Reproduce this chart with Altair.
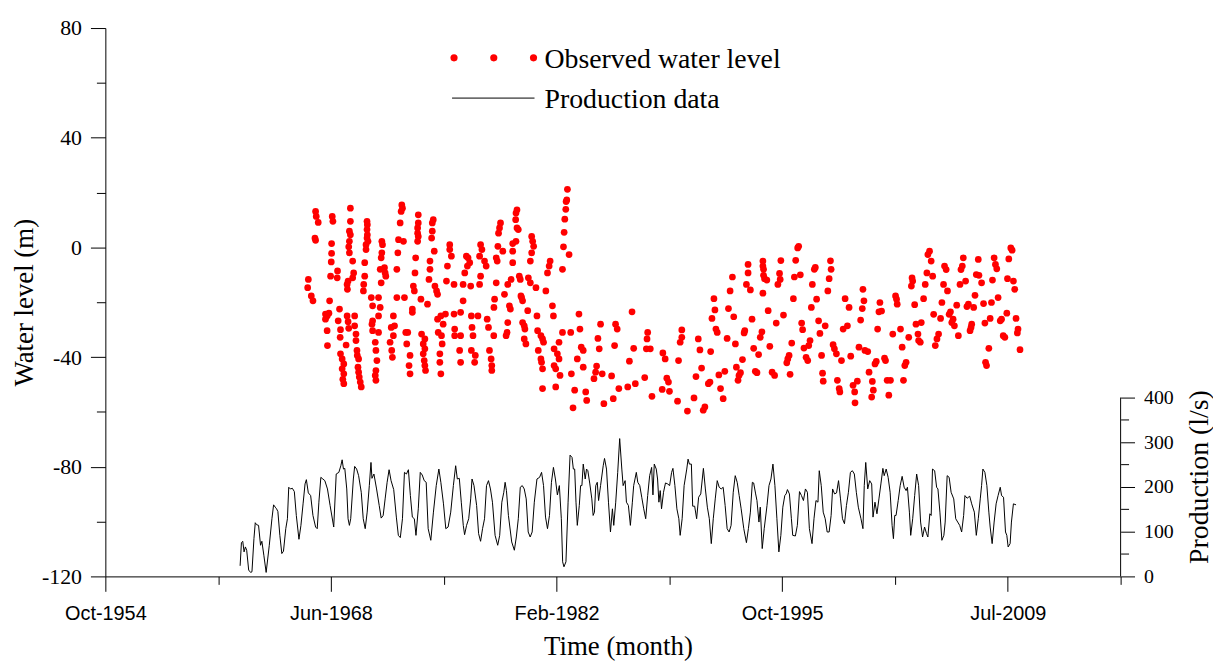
import altair as alt
import pandas as pd

# ---------------- data (decimal year, value) ----------------
water_level = [
    (1967.07,-11.7),(1967.03,-14.7),(1967.25,-17.7),(1967.35,-19.5),(1967.51,13.1),(1967.55,11.3),(1967.67,9.1),(1967.47,3.4),(1967.51,2.6),
    (1968.11,-24.3),(1968.21,-25.0),(1968.32,-24.0),(1968.11,-26.2),(1968.21,-30.4),(1968.23,-35.8),(1968.36,-19.5),(1968.42,-10.5),(1968.52,11.3),(1968.56,9.5),(1968.48,1.4),(1968.48,-2.2),(1968.46,-5.3),
    (1968.84,-8.6),(1968.82,-11.1),(1968.96,-22.5),(1968.88,-26.8),(1969.02,-30.0),(1969.00,-32.8),(1969.36,-35.6),(1969.02,-38.8),(1969.12,-40.7),(1969.22,-42.5),(1969.12,-44.3),(1969.22,-46.1),(1969.16,-48.1),(1969.22,-49.7),
    (1969.62,14.3),(1969.62,9.5),(1969.56,5.9),(1969.62,4.6),(1969.56,2.2),(1969.52,0.2),(1969.56,-2.0),(1969.76,-5.0),(1969.82,-9.3),(1969.76,-11.1),(1969.48,-12.3),(1969.42,-13.5),(1969.44,-15.3),(1969.42,-25.0),(1969.48,-27.1),(1969.52,-29.5),
    (1969.88,-25.0),(1969.88,-28.6),(1969.96,-31.6),(1969.96,-34.0),(1970.02,-37.6),(1970.04,-39.4),(1970.12,-40.7),(1970.08,-43.7),(1970.12,-45.5),(1970.16,-47.3),(1970.22,-49.1),(1970.28,-50.9),
    (1970.63,9.5),(1970.65,8.3),(1970.63,6.5),(1970.65,4.6),(1970.63,3.4),(1970.69,2.2),(1970.57,1.0),(1970.57,-0.8),(1970.49,-5.6),(1970.49,-10.5),(1970.43,-13.5),(1970.41,-15.9),
    (1970.89,-18.3),(1970.97,-21.3),(1971.33,-18.3),(1971.43,-21.9),(1971.33,-25.0),(1970.97,-26.8),(1970.93,-28.0),(1970.97,-30.4),(1971.33,-31.0),(1971.13,-34.6),(1971.17,-37.6),(1971.23,-41.3),(1971.17,-44.9),(1971.13,-46.7),(1971.17,-48.5),
    (1971.49,-12.9),(1971.43,-8.0),(1971.53,2.2),(1971.57,1.0),(1971.53,-2.0),(1971.49,-3.8),(1971.69,-7.4),(1971.73,-9.3),(1971.77,-10.5),
    (1972.23,-25.0),(1972.30,-28.6),(1972.10,-29.2),(1972.23,-32.2),(1972.03,-34.6),(1972.13,-37.6),(1972.17,-40.1),
    (1972.74,15.5),(1972.78,14.3),(1972.70,13.1),(1972.64,8.9),(1972.54,2.8),(1972.84,2.2),(1972.50,-2.0),(1972.44,-8.0),(1972.44,-18.3),(1972.90,-18.3),
    (1972.98,-31.0),(1973.10,-31.0),(1973.04,-35.2),(1973.24,-39.4),(1973.18,-43.1),(1973.24,-46.1),
    (1973.58,-3.8),(1973.54,-9.3),(1973.44,-14.1),(1973.50,-15.9),(1973.38,-22.5),(1973.38,-23.7),
    (1973.74,11.9),(1973.74,8.9),(1973.70,7.1),(1973.70,5.2),(1973.74,4.0),(1973.70,2.2),
    (1973.90,-18.9),(1974.30,-20.7),(1973.94,-31.6),(1974.14,-33.4),(1974.04,-35.2),(1974.14,-37.0),(1974.04,-38.8),(1974.10,-41.3),(1974.14,-43.1),(1974.18,-44.9),
    (1974.65,10.1),(1974.59,8.9),(1974.59,5.9),(1974.55,3.4),(1974.71,-1.4),(1974.45,-5.0),(1974.45,-8.0),(1974.39,-11.7),(1974.75,-14.1),(1974.85,-15.9),(1974.91,-17.1),
    (1975.11,-25.0),(1974.91,-26.2),(1975.25,-28.0),(1974.95,-31.0),(1975.15,-32.2),(1975.19,-35.2),(1975.05,-38.8),(1975.05,-41.9),(1975.11,-46.1),
    (1975.65,1.0),(1975.65,-0.8),(1975.75,-3.2),(1975.51,-6.8),(1975.45,-12.3),(1975.39,-24.3),(1975.91,-13.5),(1975.91,-24.3),
    (1976.31,-23.7),(1975.95,-29.8),(1976.31,-32.2),(1975.95,-32.2),(1976.25,-37.6),(1976.31,-41.9),
    (1976.66,-3.2),(1976.76,-3.8),(1976.86,-5.6),(1976.72,-6.8),(1976.56,-9.3),(1976.46,-13.5),(1976.92,-14.1),(1976.46,-19.5),
    (1976.96,-25.0),(1977.00,-29.2),(1977.06,-32.2),(1976.96,-37.6),(1977.20,-39.4),(1977.16,-41.9),
    (1977.52,1.0),(1977.60,-0.8),(1977.46,-3.2),(1977.76,-5.0),(1977.86,-6.8),(1977.52,-10.5),(1977.46,-13.5),(1977.36,-25.0),
    (1977.92,-26.2),(1978.00,-29.2),(1978.32,-32.2),(1978.06,-37.6),(1978.16,-40.7),(1978.20,-43.1),(1978.20,-44.9),
    (1978.47,-3.8),(1978.53,-5.0),(1978.47,-12.9),(1978.37,-18.9),(1978.33,-21.9),
    (1978.73,8.9),(1978.67,7.1),(1978.61,5.2),(1978.57,0.4),(1978.87,-1.4),(1978.97,-17.1),(1979.17,-13.5),(1979.37,-11.7),(1979.27,-21.3),(1979.33,-22.5),(1979.17,-27.4),(1979.13,-31.0),(1979.07,-32.2),
    (1979.73,13.7),(1979.67,12.5),(1979.65,10.1),(1979.73,7.1),(1979.81,6.5),(1979.67,2.2),(1979.47,1.4),(1979.47,-1.4),(1979.47,-5.6),(1979.87,-10.5),(1979.93,-11.7),
    (1979.97,-17.7),(1980.01,-18.3),(1980.07,-19.5),(1980.07,-27.4),(1980.17,-28.6),(1980.21,-29.8),(1980.17,-33.4),(1980.27,-35.2),
    (1980.62,4.0),(1980.68,2.2),(1980.74,0.4),(1980.62,-2.0),(1980.54,-5.0),(1980.42,-11.1),(1980.54,-12.9),(1980.88,-14.7),(1980.38,-23.1),
    (1980.94,-25.0),(1980.98,-30.4),(1981.18,-32.2),(1981.28,-33.4),(1981.34,-34.6),(1981.02,-37.6),(1981.18,-40.7),(1981.22,-41.9),(1981.28,-44.3),(1981.28,-51.5),
    (1981.74,-5.0),(1981.68,-6.8),(1981.58,-9.3),(1981.48,-15.9),(1981.88,-21.3),(1981.94,-25.0),
    (1982.28,-34.6),(1981.98,-37.0),(1982.18,-38.8),(1982.28,-40.7),(1981.98,-43.1),(1982.08,-44.3),(1982.34,-46.7),(1982.08,-50.9),
    (1982.79,21.2),(1982.75,17.3),(1982.71,16.7),(1982.69,13.9),(1982.63,10.3),(1982.59,5.5),(1982.55,0.2),(1982.89,-2.6),(1982.49,-8.0),
    (1982.49,-31.0),(1982.99,-31.0),(1983.49,-24.3),(1983.55,-29.8),(1983.63,-36.4),(1983.75,-37.6),(1983.39,-40.7),(1983.75,-43.7),(1983.03,-46.1),(1983.23,-52.1),(1983.90,-52.7),(1983.96,-55.8),(1983.13,-58.5),
    (1984.40,-47.9),(1984.50,-45.5),(1984.56,-43.3),(1984.64,-33.2),(1984.72,-37.0),(1984.80,-28.0),(1984.90,-46.1),(1985.00,-57.0),
    (1985.47,-46.9),(1985.57,-55.2),(1985.71,-28.0),(1985.81,-29.8),(1985.65,-35.8),(1985.91,-51.5),
    (1986.45,-50.9),(1986.55,-41.5),(1986.71,-23.5),(1986.81,-36.8),(1986.91,-49.7),
    (1987.48,-47.5),(1987.62,-33.4),(1987.66,-31.0),(1987.58,-37.0),(1987.82,-37.0),(1987.92,-54.3),
    (1988.58,-38.5),(1988.72,-40.7),(1988.54,-51.8),(1988.82,-47.7),(1988.92,-49.1),(1988.98,-52.5),
    (1989.53,-41.3),(1989.63,-34.6),(1989.73,-32.8),(1989.73,-30.1),(1989.47,-56.1),
    (1990.07,-59.7),(1990.47,-54.9),(1990.59,-47.1),(1990.73,-33.4),(1990.83,-37.4),(1990.93,-44.0),(1991.13,-58.2),(1991.03,-59.4),
    (1991.34,-49.7),(1991.44,-49.1),(1991.48,-38.0),(1991.68,-18.7),(1991.74,-22.8),(1991.56,-25.9),(1991.80,-29.8),(1991.88,-31.0),
    (1991.98,-46.5),(1992.08,-51.5),(1992.24,-55.2),(1992.34,-45.2),(1992.48,-33.2),(1992.56,-22.3),(1992.66,-15.9),(1992.80,-10.8),(1992.88,-25.3),
    (1992.98,-35.2),(1993.04,-43.7),(1993.14,-48.5),(1993.20,-46.7),(1993.29,-45.7),(1993.41,-40.9),(1993.51,-31.2),(1993.55,-30.4),
    (1993.75,-6.2),(1993.75,-9.3),(1993.65,-13.5),(1993.89,-15.5),(1993.99,-26.2),(1994.09,-36.8),(1994.19,-45.2),(1994.29,-45.7),(1994.39,-39.1),(1994.49,-32.8),(1994.59,-30.8),
    (1994.65,-16.7),(1994.65,-5.0),(1994.65,-6.8),(1994.69,-8.0),(1994.69,-10.2),(1994.75,-11.4),(1994.89,-11.9),(1994.97,-23.1),(1995.07,-36.1),(1995.21,-45.5),(1995.36,-46.7),
    (1995.46,-27.6),(1995.56,-13.5),(1995.70,-11.7),(1995.66,-9.5),(1995.74,-4.8),(1995.90,-24.7),(1996.10,-42.1),(1996.16,-40.7),(1996.24,-39.4),(1996.30,-46.3),(1996.40,-34.9),
    (1996.50,-18.7),(1996.56,-10.8),(1996.64,-4.7),(1996.76,-0.2),(1996.82,0.4),(1996.92,-10.0),(1997.00,-27.6),(1997.06,-30.0),(1997.14,-36.7),(1997.27,-40.1),(1997.37,-41.3),(1997.43,-35.8),(1997.51,-34.0),
    (1997.59,-21.9),(1997.65,-13.5),(1997.77,-8.0),(1997.83,-7.3),(1997.91,-18.9),(1998.03,-26.8),(1998.11,-31.4),(1998.21,-39.4),(1998.27,-45.9),(1998.31,-48.8),
    (1998.43,-28.6),(1998.59,-15.9),(1998.67,-11.4),(1998.79,-8.0),(1998.75,-4.9),(1998.91,-35.5),(1998.99,-37.0),(1999.11,-38.8),(1999.17,-48.5),(1999.28,-51.5),(1999.32,-52.7),
    (1999.42,-41.3),(1999.52,-29.8),(1999.64,-18.7),(1999.78,-28.6),(1999.88,-21.9),(1999.98,-39.7),(2000.12,-50.3),(2000.22,-52.7),(2000.24,-56.7),(2000.38,-48.8),(2000.48,-36.4),(2000.58,-26.5),(2000.68,-22.3),(2000.72,-15.3),(2000.78,-19.5),(2000.84,-37.6),
    (2001.01,-38.0),(2001.09,-45.5),(2001.29,-48.9),(2001.25,-54.6),(2001.35,-52.1),(2001.45,-42.5),(2001.53,-41.6),(2001.61,-29.8),(2001.69,-23.5),(2001.85,-23.2),(2001.75,-20.1),
    (2002.03,-40.4),(2002.09,-41.3),(2002.19,-48.5),(2002.29,-53.9),(2002.39,-48.5),(2002.53,-31.6),(2002.70,-17.7),(2002.76,-18.9),(2002.80,-20.7),
    (2003.00,-29.8),(2003.10,-36.4),(2003.18,-48.5),(2003.26,-43.1),(2003.34,-41.9),(2003.50,-32.8),(2003.70,-11.1),(2003.66,-14.1),(2003.74,-12.3),(2003.86,-20.9),(2003.94,-28.0),
    (2004.06,-31.6),(2004.10,-34.0),(2004.20,-34.6),(2004.26,-27.4),(2004.40,-18.7),(2004.50,-13.5),(2004.60,-9.3),(2004.66,-2.6),(2004.76,-1.4),(2004.86,-5.0),(2004.95,-10.5),
    (2005.01,-24.4),(2005.11,-35.8),(2005.21,-33.4),(2005.31,-31.6),(2005.43,-25.9),(2005.51,-20.1),(2005.61,-13.5),(2005.67,-6.8),(2005.77,-8.1),(2005.85,-15.9),(2005.95,-24.4),
    (2006.03,-23.5),(2006.11,-27.4),(2006.19,-26.2),(2006.27,-28.6),(2006.41,-21.1),(2006.51,-32.2),(2006.61,-13.5),(2006.67,-8.1),(2006.75,-6.8),(2006.81,-3.8),(2006.95,-12.3),
    (2007.03,-21.6),(2007.12,-20.7),(2007.22,-30.4),(2007.32,-28.0),(2007.28,-29.2),(2007.44,-21.9),(2007.52,-17.5),(2007.60,-9.9),(2007.72,-4.4),(2007.76,-10.2),(2007.92,-12.9),
    (2008.04,-20.5),(2008.16,-41.9),(2008.22,-43.1),(2008.12,-27.6),(2008.36,-36.8),(2008.44,-25.9),(2008.52,-20.1),(2008.58,-11.9),(2008.68,-3.8),(2008.76,-6.2),(2008.84,-7.8),(2008.92,-18.3),
    (2009.05,-26.8),(2009.13,-26.2),(2009.23,-32.2),(2009.33,-32.8),(2009.45,-24.0),(2009.49,-11.4),(2009.57,-4.2),(2009.69,-0.2),(2009.77,-1.0),(2009.85,-12.3),(2009.93,-15.3),(2010.01,-25.9),(2010.09,-31.2),(2010.13,-29.8),(2010.25,-37.3),
]

production = [
    (1962.93,23.7),(1963.01,75.5),(1963.09,78.5),(1963.17,54.8),(1963.25,65.9),(1963.33,58.5),(1963.45,14.1),(1963.57,8.9),(1963.65,10.4),(1963.77,84.4),
    (1963.85,120.0),(1963.93,115.6),(1964.05,114.1),(1964.17,69.6),(1964.25,78.5),(1964.37,47.4),(1964.51,8.9),(1964.70,69.6),(1964.86,128.9),(1964.96,160.0),
    (1965.06,154.8),(1965.14,151.1),(1965.22,145.2),(1965.34,91.8),(1965.46,51.1),(1965.56,56.3),(1965.70,106.7),(1965.80,128.9),(1965.88,199.3),(1965.98,195.5),
    (1966.10,197.0),(1966.22,189.6),(1966.34,136.3),(1966.50,83.0),(1966.62,114.1),(1966.75,162.2),(1966.87,206.7),(1966.95,216.3),(1967.07,186.7),(1967.21,180.7),
    (1967.35,136.3),(1967.51,110.4),(1967.61,106.7),(1967.71,165.9),(1967.83,221.5),(1967.95,217.8),(1968.07,214.1),(1968.23,195.5),(1968.39,158.5),(1968.61,110.4),
    (1968.76,228.9),(1968.92,232.6),(1969.04,247.4),(1969.12,260.7),(1969.20,240.0),(1969.28,241.5),(1969.40,195.5),(1969.48,128.9),(1969.56,114.1),(1969.64,128.9),
    (1969.80,217.8),(1969.88,245.9),(1970.00,240.0),(1970.12,225.2),(1970.28,188.1),(1970.40,128.9),(1970.52,106.7),(1970.64,143.7),(1970.77,203.0),(1970.87,254.8),
    (1970.93,219.3),(1971.05,228.9),(1971.21,195.5),(1971.37,158.5),(1971.49,130.4),(1971.61,136.3),(1971.73,173.3),(1971.85,210.4),(1971.97,238.5),(1972.09,214.1),
    (1972.25,194.1),(1972.41,132.6),(1972.53,91.8),(1972.65,86.7),(1972.78,128.9),(1972.90,232.6),(1973.02,228.9),(1973.14,238.5),(1973.26,180.7),(1973.38,132.6),
    (1973.50,128.9),(1973.60,91.8),(1973.74,151.1),(1973.86,232.6),(1973.98,226.7),(1974.10,214.1),(1974.22,210.4),(1974.34,106.7),(1974.50,80.7),(1974.66,143.7),
    (1974.83,203.0),(1974.99,240.0),(1975.11,210.4),(1975.27,162.2),(1975.41,106.7),(1975.55,110.4),(1975.71,143.7),(1975.87,203.0),(1976.01,247.4),(1976.11,217.8),
    (1976.23,219.3),(1976.35,165.9),(1976.47,114.1),(1976.55,93.3),(1976.67,114.1),(1976.80,128.9),(1976.92,173.3),(1977.00,217.8),(1977.12,203.0),(1977.28,158.5),
    (1977.40,95.6),(1977.52,78.5),(1977.64,106.7),(1977.76,128.9),(1977.88,203.0),(1978.00,214.1),(1978.12,195.5),(1978.24,165.9),(1978.40,91.8),(1978.56,69.6),
    (1978.68,91.8),(1978.81,165.9),(1978.93,188.1),(1979.01,210.4),(1979.09,191.8),(1979.21,136.3),(1979.41,77.0),(1979.57,58.5),(1979.69,88.1),(1979.81,128.9),
    (1979.93,199.3),(1980.05,203.0),(1980.17,195.5),(1980.29,173.3),(1980.41,99.3),(1980.53,88.1),(1980.65,99.3),(1980.78,165.9),(1980.94,217.8),(1981.10,221.5),
    (1981.22,232.6),(1981.34,203.0),(1981.46,132.6),(1981.58,106.7),(1981.70,136.3),(1981.82,210.4),(1981.94,243.7),(1982.06,217.8),(1982.18,182.2),(1982.30,203.0),
    (1982.42,128.9),(1982.50,32.6),(1982.58,21.5),(1982.70,32.6),(1982.83,165.9),(1982.95,271.1),(1983.07,265.9),(1983.15,240.0),(1983.23,240.0),(1983.31,165.9),
    (1983.39,114.1),(1983.51,158.5),(1983.59,203.0),(1983.67,203.0),(1983.75,251.1),(1983.87,217.8),(1983.95,240.0),(1984.03,236.3),(1984.15,206.7),(1984.27,173.3),
    (1984.35,136.3),(1984.43,143.7),(1984.51,203.0),(1984.60,210.4),(1984.68,169.6),(1984.80,203.0),(1984.96,247.4),(1985.04,263.7),(1985.16,240.0),(1985.28,165.9),
    (1985.40,99.3),(1985.52,151.1),(1985.60,114.1),(1985.72,165.9),(1985.84,232.6),(1985.96,308.1),(1986.09,240.0),(1986.17,203.0),(1986.29,214.1),(1986.37,165.9),
    (1986.49,158.5),(1986.61,114.1),(1986.73,165.9),(1986.81,203.0),(1986.97,232.6),(1987.06,210.4),(1987.18,203.0),(1987.30,177.0),(1987.42,151.1),(1987.54,128.9),
    (1987.66,180.7),(1987.78,225.2),(1987.90,243.7),(1987.98,182.2),(1988.06,251.1),(1988.18,240.0),(1988.26,217.8),(1988.34,165.9),(1988.42,191.8),(1988.50,151.1),
    (1988.62,188.1),(1988.74,208.9),(1988.87,206.7),(1988.99,203.0),(1989.11,232.6),(1989.19,241.5),(1989.31,203.0),(1989.43,151.1),(1989.55,128.9),(1989.63,91.8),
    (1989.75,128.9),(1989.87,203.0),(1990.03,240.0),(1990.11,262.2),(1990.19,251.1),(1990.31,251.1),(1990.39,157.0),(1990.51,157.0),(1990.63,128.9),(1990.75,177.0),
    (1990.88,184.4),(1991.04,241.5),(1991.16,195.5),(1991.28,154.8),(1991.40,128.9),(1991.52,73.3),(1991.64,128.9),(1991.76,173.3),(1991.88,214.1),(1992.00,199.3),
    (1992.12,195.5),(1992.24,199.3),(1992.36,158.5),(1992.48,106.7),(1992.60,99.3),(1992.72,114.1),(1992.85,188.1),(1992.97,225.2),(1993.09,210.4),(1993.21,180.7),
    (1993.33,151.1),(1993.49,106.7),(1993.65,75.5),(1993.77,106.7),(1993.89,143.7),(1994.01,210.4),(1994.09,208.9),(1994.21,184.4),(1994.29,169.6),(1994.41,121.5),
    (1994.49,154.8),(1994.61,62.2),(1994.73,106.7),(1994.90,158.5),(1995.02,203.0),(1995.14,217.8),(1995.26,251.1),(1995.38,203.0),(1995.50,128.9),(1995.62,54.8),
    (1995.74,91.8),(1995.86,154.8),(1995.98,180.7),(1996.06,184.4),(1996.14,194.1),(1996.26,184.4),(1996.38,128.9),(1996.46,91.8),(1996.62,90.4),(1996.74,114.1),
    (1996.87,189.6),(1996.99,180.7),(1997.11,169.6),(1997.23,195.5),(1997.35,188.1),(1997.47,106.7),(1997.63,73.3),(1997.75,128.9),(1997.87,169.6),(1997.99,165.9),
    (1998.07,236.3),(1998.19,203.0),(1998.31,143.7),(1998.43,128.9),(1998.55,99.3),(1998.67,99.3),(1998.79,136.3),(1998.88,195.5),(1999.00,184.4),(1999.12,186.7),
    (1999.24,214.1),(1999.36,173.3),(1999.48,128.9),(1999.60,117.8),(1999.72,158.5),(1999.84,188.1),(1999.96,232.6),(2000.08,236.3),(2000.20,228.9),(2000.32,188.1),
    (2000.44,154.8),(2000.60,128.9),(2000.72,106.7),(2000.80,203.0),(2000.89,254.8),(2001.01,195.5),(2001.13,214.1),(2001.25,206.7),(2001.33,132.6),(2001.45,165.9),
    (2001.57,140.0),(2001.69,173.3),(2001.81,206.7),(2001.93,241.5),(2002.01,225.2),(2002.13,240.0),(2002.25,221.5),(2002.37,188.1),(2002.49,114.1),(2002.57,84.4),
    (2002.65,136.3),(2002.73,136.3),(2002.86,169.6),(2002.98,203.0),(2003.10,223.7),(2003.22,199.3),(2003.34,191.8),(2003.42,199.3),(2003.54,143.7),(2003.62,91.8),
    (2003.74,128.9),(2003.86,180.7),(2003.98,228.9),(2004.10,203.0),(2004.22,121.5),(2004.34,88.1),(2004.46,110.4),(2004.58,95.6),(2004.66,88.1),(2004.78,140.0),
    (2004.86,136.3),(2004.94,240.0),(2005.07,236.3),(2005.19,199.3),(2005.27,195.5),(2005.39,143.7),(2005.51,80.7),(2005.63,91.8),(2005.71,121.5),(2005.83,225.2),
    (2005.95,221.5),(2006.07,188.1),(2006.23,173.3),(2006.35,128.9),(2006.47,121.5),(2006.59,114.1),(2006.71,99.3),(2006.83,136.3),(2006.91,180.7),(2007.04,174.8),
    (2007.20,179.3),(2007.32,162.2),(2007.48,143.7),(2007.60,91.8),(2007.72,128.9),(2007.84,173.3),(2007.92,203.0),(2008.00,240.0),(2008.12,232.6),(2008.24,203.0),
    (2008.36,143.7),(2008.44,110.4),(2008.56,73.3),(2008.68,121.5),(2008.80,162.2),(2008.92,180.7),(2009.05,199.3),(2009.13,180.7),(2009.25,177.0),(2009.37,99.3),
    (2009.45,91.8),(2009.53,65.9),(2009.65,73.3),(2009.73,121.5),(2009.85,162.2),(2010.01,160.0),
]

x_major_labels = ["Oct-1954", "Jun-1968", "Feb-1982", "Oct-1995", "Jul-2009"]
left_ticks = [-120, -100, -80, -60, -40, -20, 0, 20, 40, 60, 80]
right_ticks = [0, 50, 100, 150, 200, 250, 300, 350, 400]
legend_labels = ["Observed water level", "Production data"]
right_title = "Production (l/s)"


def year_to_iso(y):
    yr = int(y)
    start = pd.Timestamp(year=yr, month=1, day=1)
    end = pd.Timestamp(year=yr + 1, month=1, day=1)
    return (start + (end - start) * (y - yr)).strftime("%Y-%m-%dT%H:%M:%S")


wl_df = pd.DataFrame({"date": [year_to_iso(t) for t, _ in water_level],
                      "level": [v for _, v in water_level]})
pr_df = pd.DataFrame({"date": [year_to_iso(t) for t, _ in production],
                      "flow": [v for _, v in production]})

# time axis: Origin-style ticks every 5000 days, minor ticks halfway
origin = pd.Timestamp("1954-10-03")


def dt(ts):
    return alt.DateTime(year=ts.year, month=ts.month, date=ts.day)


x_vals = [dt(origin + pd.Timedelta(days=2500 * k)) for k in range(10)]
x_scale = alt.Scale(domain=[dt(origin), dt(origin + pd.Timedelta(days=22500))])

SERIF = "Liberation Serif"
SANS = "Liberation Sans"

major_x = "indexof([" + ",".join("'%s'" % s for s in x_major_labels) + "], timeFormat(datum.value, '%b-%Y')) >= 0"
x_axis = alt.Axis(
    values=x_vals,
    labelExpr=major_x + " ? timeFormat(datum.value, '%b-%Y') : ''",
    tickSize={"condition": {"test": major_x, "value": 15}, "value": 8},
    labelFont=SANS, labelFontSize=20, labelPadding=12, labelColor="black",
    labelFlush=False, labelOverlap=False,
    title="Time (month)", titleFont=SERIF, titleFontSize=27, titleFontWeight="normal",
    titleColor="black", titleX=516, titleY=79, titleAlign="center", titleBaseline="alphabetic",
    grid=False, domainColor="black", tickColor="black",
)

major_l = "datum.value % 40 === 0"
y_axis = alt.Axis(
    values=left_ticks,
    labelExpr=major_l + " ? '' + datum.value : ''",
    tickSize={"condition": {"test": major_l, "value": 15}, "value": 9},
    labelFont=SERIF, labelFontSize=22, labelPadding=9, labelColor="black",
    labelFlush=False, labelOverlap=False,
    title="Water level (m)", titleFont=SERIF, titleFontSize=27, titleFontWeight="normal",
    titleColor="black", titleAngle=270, titleX=-73, titleY=276, titleAlign="center",
    titleBaseline="alphabetic",
    grid=False, domainColor="black", tickColor="black",
)

major_r = "datum.value % 100 === 0"
r_axis = alt.Axis(
    orient="right", values=right_ticks,
    labelExpr=major_r + " ? '' + datum.value : ''",
    tickSize={"condition": {"test": major_r, "value": 14}, "value": 8},
    labelFont=SERIF, labelFontSize=20, labelPadding=9, labelColor="black",
    labelFlush=False, labelOverlap=False,
    domain=False, grid=False, tickColor="black",
)
prod_scale = alt.Scale(domain=[0, 1226], nice=False, zero=True)

water = alt.Chart(wl_df).mark_circle(color="#ff0000", opacity=1, size=46).encode(
    x=alt.X("date:T", scale=x_scale, axis=x_axis),
    y=alt.Y("level:Q", scale=alt.Scale(domain=[-120, 80], nice=False, zero=False), axis=y_axis),
)

prod_line = alt.Chart(pr_df).mark_line(color="black", strokeWidth=1).encode(
    x=alt.X("date:T", scale=x_scale, axis=x_axis),
    y=alt.Y("flow:Q", scale=prod_scale, axis=r_axis, title=""),
)

axis_range = pd.DataFrame({"lo": [right_ticks[0]], "hi": [right_ticks[-1]]})
prod_rule = alt.Chart(axis_range).mark_rule(color="black", strokeWidth=1).encode(
    x=alt.value(1022),
    y=alt.Y("lo:Q", scale=prod_scale, axis=r_axis, title=""),
    y2="hi:Q",
)

one = alt.Data(values=[{"k": 0}])
legend_dots = [
    alt.Chart(one).mark_circle(color="#ff0000", opacity=1, size=52).encode(
        x=alt.value(px), y=alt.value(30))
    for px in (351, 391, 431)
]
legend_line = alt.Chart(one).mark_rule(color="black", strokeWidth=1).encode(
    x=alt.value(349), x2=alt.value(432), y=alt.value(70.5))
legend_t1 = alt.Chart(one).mark_text(
    text=legend_labels[0], font=SERIF, fontSize=28, align="left", baseline="alphabetic",
    color="black").encode(x=alt.value(442), y=alt.value(40))
legend_t2 = alt.Chart(one).mark_text(
    text=legend_labels[1], font=SERIF, fontSize=28, align="left", baseline="alphabetic",
    color="black").encode(x=alt.value(442), y=alt.value(80))
prod_title = alt.Chart(one).mark_text(
    text=right_title, font=SERIF, fontSize=28, angle=270, align="center",
    baseline="alphabetic", color="black").encode(x=alt.value(1110), y=alt.value(452))

chart = alt.layer(
    water,
    alt.layer(prod_line, prod_rule),
    *legend_dots, legend_line, legend_t1, legend_t2, prod_title,
).resolve_scale(y="independent").properties(
    width=1022, height=552,
    padding={"left": 98, "top": 18, "right": 93, "bottom": 86},
    autosize=alt.AutoSizeParams(type="none"),
).configure_view(stroke=None).configure_axis(domainWidth=1, tickWidth=1)

chart.save("out.html", embed_options={"renderer": "svg", "actions": False})
